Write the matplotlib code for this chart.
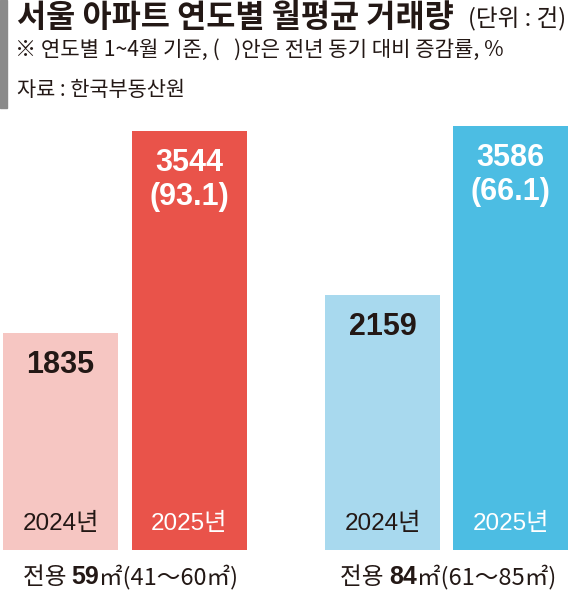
import matplotlib
matplotlib.use("Agg")
import matplotlib.pyplot as plt
from matplotlib.patches import Rectangle

# data
groups = ["59", "84"]
group_ranges = ["㎡(41～60㎡)", "㎡(61～85㎡)"]
years = ["2024년", "2025년", "2024년", "2025년"]
values = [1835, 3544, 2159, 3586]
changes = [None, "(93.1)", None, "(66.1)"]

colors = ["#f6c6c2", "#e9534a", "#a8d9ee", "#4cbde3"]
label_colors = ["#231815", "#ffffff", "#231815", "#ffffff"]
positions = [60.5, 189.5, 382.5, 510.5]
group_left = [23, 340]
INK = "#231815"

KR = ["Noto Sans CJK KR", "DejaVu Sans"]
NUM = ["Liberation Sans", "Noto Sans CJK KR", "DejaVu Sans"]

W, H = 570, 596
fig = plt.figure(figsize=(W / 100, H / 100), dpi=100)
fig.patch.set_facecolor("white")


def fy(py):
    # pixel row from the top -> figure fraction
    return 1 - py / H


# grey marker left of the title block
fig.patches.append(Rectangle((0, fy(108)), 7 / W, 108 / H,
                             transform=fig.transFigure, color="#8a8a8a"))

# title block
fig.text(17 / W, fy(18), "서울 아파트 연도별 월평균 거래량", family=KR,
         weight=900, fontsize=22.8, color=INK, va="center", ha="left")
fig.text(566 / W, fy(19), "(단위 : 건)", family=KR, fontsize=17,
         color=INK, va="center", ha="right")
fig.text(15 / W, fy(50), "※ 연도별 1~4월 기준, (   )안은 전년 동기 대비 증감률, %",
         family=KR, fontsize=15.2, color=INK, va="center", ha="left")
fig.text(17 / W, fy(90), "자료 : 한국부동산원", family=KR, fontsize=15,
         color=INK, va="center", ha="left")

# bars
ax = fig.add_axes([0, (H - 550) / H, 1, 550 / H])
ax.bar(positions, values, width=115, color=colors)
ax.set_xlim(0, W)
ax.set_ylim(0, 550 / 0.1183)
ax.axis("off")

px = 0.72  # points per pixel at 100 dpi
for x, v, yr, ch, lc in zip(positions, values, years, changes, label_colors):
    ax.annotate(f"{v}", (x, v), xytext=(0, -32 * px), textcoords="offset points",
                ha="center", va="center", family=NUM, weight="bold",
                fontsize=22, color=lc)
    if ch:
        ax.annotate(ch, (x, v), xytext=(0, -66 * px), textcoords="offset points",
                    ha="center", va="center", family=NUM, weight="bold",
                    fontsize=22, color=lc)
    ax.annotate(yr, (x, 0), xytext=(0, 26 * px), textcoords="offset points",
                ha="center", va="center", family=NUM, fontsize=17.5, color=lc)

# category labels under each group, pieces laid out on one baseline
renderer = fig.canvas.get_renderer()
for gx, g, rng in zip(group_left, groups, group_ranges):
    x0 = gx
    pieces = [("전용 ", KR, "normal", 17), (g, NUM, "bold", 18),
              (rng, KR, "normal", 17)]
    for s, fam, wt, fs in pieces:
        t = fig.text(x0 / W, fy(584), s, family=fam, weight=wt, fontsize=fs,
                     color=INK, va="baseline", ha="left")
        x0 += t.get_window_extent(renderer).width

fig.savefig("out.png", dpi=100)
